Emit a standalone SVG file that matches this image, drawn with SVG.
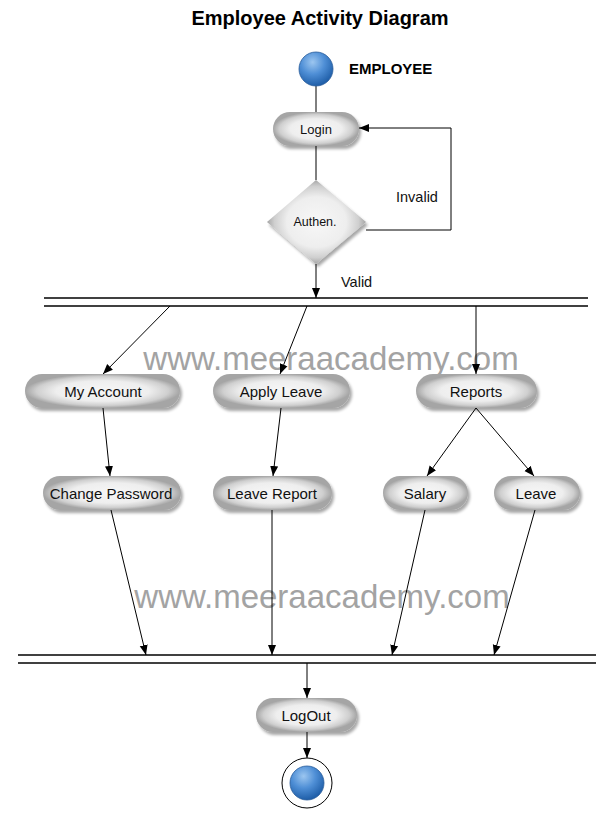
<svg xmlns="http://www.w3.org/2000/svg" width="612" height="816" viewBox="0 0 612 816">
<defs>
<radialGradient id="pill" cx="50%" cy="50%" r="50%">
<stop offset="0" stop-color="#f7f7f7"/>
<stop offset="0.6" stop-color="#eeeeee"/>
<stop offset="0.85" stop-color="#cfcfcf"/>
<stop offset="1" stop-color="#a5a5a5"/>
</radialGradient>
<radialGradient id="ball" cx="40%" cy="30%" r="70%">
<stop offset="0" stop-color="#9cc6f0"/>
<stop offset="0.5" stop-color="#4f8fd6"/>
<stop offset="1" stop-color="#1f5ea8"/>
</radialGradient>
<filter id="sh" x="-20%" y="-30%" width="140%" height="170%">
<feGaussianBlur in="SourceAlpha" stdDeviation="1.5"/>
<feOffset dx="2" dy="3" result="b"/>
<feComponentTransfer><feFuncA type="linear" slope="0.35"/></feComponentTransfer>
<feMerge><feMergeNode/><feMergeNode in="SourceGraphic"/></feMerge>
</filter>
<marker id="arr" viewBox="0 0 10 10" refX="10" refY="5" markerWidth="10" markerHeight="10" markerUnits="userSpaceOnUse" orient="auto">
<path d="M0,1 L10,5 L0,9 Z" fill="#000"/>
</marker>
</defs>
<style>
.pill{fill:url(#pill);filter:url(#sh)}
.t{font-family:"Liberation Sans",Arial,sans-serif;font-size:15px;fill:#111;text-anchor:middle}
.l{font-family:"Liberation Sans",Arial,sans-serif;font-size:14.5px;fill:#111;text-anchor:start}
.c{stroke:#000;stroke-width:1;fill:none}
.ca{stroke:#000;stroke-width:1;fill:none;marker-end:url(#arr)}
.bar{stroke:#000;stroke-width:1.5}
.wm{font-family:"Liberation Sans",Arial,sans-serif;font-size:33px;fill:#a3a3a3;text-anchor:middle}
</style>
<rect width="612" height="816" fill="#fff"/>
<text x="320" y="25" font-family="Liberation Sans,Arial,sans-serif" font-size="20" font-weight="bold" text-anchor="middle" fill="#000">Employee Activity Diagram</text>
<text class="wm" x="331" y="370">www.meeraacademy.com</text>
<text class="wm" x="322" y="608">www.meeraacademy.com</text>

<g id="connectors">
<line class="c" x1="316" y1="86" x2="316" y2="112"/>
<line class="c" x1="316" y1="146" x2="316" y2="180"/>
<polyline class="ca" points="366,230 451,230 451,128 359,128"/>
<line class="ca" x1="316" y1="264" x2="316" y2="298"/>
<line class="bar" x1="44" y1="298" x2="588" y2="298"/>
<line class="bar" x1="44" y1="306" x2="588" y2="306"/>
<line class="ca" x1="170" y1="306" x2="103" y2="374"/>
<line class="ca" x1="307" y1="306" x2="280" y2="374"/>
<line class="ca" x1="476" y1="306" x2="476" y2="374"/>
<line class="ca" x1="103" y1="408" x2="110" y2="476"/>
<line class="ca" x1="281" y1="408" x2="273" y2="476"/>
<line class="ca" x1="476" y1="408" x2="427" y2="476"/>
<line class="ca" x1="476" y1="408" x2="534" y2="476"/>
<line class="ca" x1="111" y1="510" x2="146" y2="655"/>
<line class="ca" x1="272" y1="510" x2="272" y2="655"/>
<line class="ca" x1="425" y1="510" x2="392" y2="655"/>
<line class="ca" x1="535" y1="510" x2="494" y2="655"/>
<line class="bar" x1="18" y1="655" x2="596" y2="655"/>
<line class="bar" x1="18" y1="663" x2="596" y2="663"/>
<line class="ca" x1="307" y1="663" x2="307" y2="698"/>
<line class="ca" x1="307" y1="732" x2="307" y2="758"/>
<text class="l" x="396" y="202">Invalid</text>
<text class="l" x="341" y="287">Valid</text>
</g>

<g id="start">
<circle cx="316" cy="69" r="17" fill="url(#ball)" stroke="#2a5d9a" stroke-width="0.8"/>
<text x="349" y="74" font-family="Liberation Sans,Arial,sans-serif" font-size="15" font-weight="bold" fill="#000">EMPLOYEE</text>
</g>
<g id="login">
<rect class="pill" x="273" y="112" width="86" height="34" rx="17"/>
<text class="t" x="316" y="134" style="font-size:13px">Login</text>
</g>
<g id="authen">
<polygon points="316,180 366,222 316,264 267,222" fill="url(#pill)" filter="url(#sh)"/>
<text class="t" x="315" y="226" style="font-size:12.5px">Authen.</text>
</g>
<g id="myaccount">
<rect class="pill" x="25" y="374" width="155" height="34" rx="17"/>
<text class="t" x="103" y="397">My Account</text>
</g>
<g id="applyleave">
<rect class="pill" x="213" y="374" width="137" height="34" rx="17"/>
<text class="t" x="281" y="397">Apply Leave</text>
</g>
<g id="reports">
<rect class="pill" x="416" y="374" width="121" height="34" rx="17"/>
<text class="t" x="476" y="397">Reports</text>
</g>
<g id="changepassword">
<rect class="pill" x="43" y="476" width="138" height="34" rx="17"/>
<text class="t" x="111" y="499">Change Password</text>
</g>
<g id="leavereport">
<rect class="pill" x="213" y="476" width="119" height="34" rx="17"/>
<text class="t" x="272" y="499">Leave Report</text>
</g>
<g id="salary">
<rect class="pill" x="383" y="476" width="85" height="34" rx="17"/>
<text class="t" x="425" y="499">Salary</text>
</g>
<g id="leave">
<rect class="pill" x="494" y="476" width="86" height="34" rx="17"/>
<text class="t" x="536" y="499">Leave</text>
</g>
<g id="logout">
<rect class="pill" x="256" y="698" width="101" height="34" rx="17"/>
<text class="t" x="306" y="721">LogOut</text>
</g>
<g id="end">
<circle cx="307" cy="783" r="25" fill="#fff" stroke="#000" stroke-width="1"/>
<circle cx="307" cy="783" r="17" fill="url(#ball)" stroke="#2a5d9a" stroke-width="0.8"/>
</g>
</svg>
